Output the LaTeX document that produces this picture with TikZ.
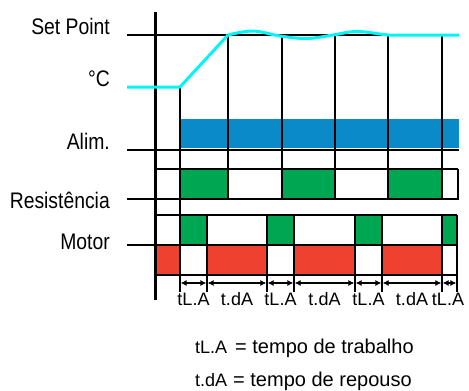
\documentclass[tikz,border=0pt]{standalone}
\usepackage{fontspec}
\setmainfont{Liberation Sans}
\newfontfamily\narrowsans[FakeStretch=0.86]{Liberation Sans}
\usetikzlibrary{arrows.meta}
\definecolor{alimblue}{HTML}{0A8AC9}
\definecolor{ongreen}{HTML}{00A651}
\definecolor{offred}{HTML}{EF4130}
\definecolor{tempcyan}{HTML}{00F6F6}
\tikzset{
  thinline/.style={line width=1.4pt, black},
  thickline/.style={line width=2.8pt, black},
  rowlabel/.style={anchor=base east, inner sep=0pt, font=\narrowsans\fontsize{22.5}{26}\selectfont},
  ticklabel/.style={anchor=base, inner sep=0pt, font=\fontsize{18}{20}\selectfont},
  legendkey/.style={anchor=base west, inner sep=0pt, font=\fontsize{18}{20}\selectfont},
  legendtext/.style={anchor=base west, inner sep=0pt, font=\fontsize{20}{24}\selectfont},
  dim/.style={line width=1.1pt, {Latex[length=6pt,width=6pt]}-{Latex[length=6pt,width=6pt]}, shorten <=0.6pt, shorten >=0.6pt},
  bluebar/.style={fill=alimblue},
  greenbar/.style={fill=ongreen},
  redbar/.style={fill=offred},
}
\begin{document}
\begin{tikzpicture}[x=1pt,y=-1pt]
\useasboundingbox (0,0) rectangle (469,391);

% --- coloured state bars ---
\fill[bluebar] (180,119) rectangle (459,148);
\foreach \a/\b in {180/228, 282/335, 388/442}
  \fill[greenbar] (\a,169) rectangle (\b,198);
\foreach \a/\b in {180/207, 267/294, 355/382, 442/457}
  \fill[greenbar] (\a,215) rectangle (\b,245);
\foreach \a/\b in {156/180, 207/267, 294/355, 382/442}
  \fill[redbar] (\a,245) rectangle (\b,275);

% --- reference lines ---
\draw[line width=1.8pt] (127,35) -- (459,35);
\draw[line width=3.4pt] (155.5,12) -- (155.5,300);
\draw[thickline] (127,150) -- (459,150);
\draw[thickline] (127,199) -- (459,199);
\draw[thickline] (127,245) -- (458,245);

% --- heater row frame ---
\draw[thinline] (156,169) -- (458,169);
\draw[thinline] (458,169) -- (458,199);

% --- motor row frame ---
\draw[thinline] (156,215) -- (457,215);
\draw[thinline] (155,275) -- (457,275);

% --- time markers ---
\draw[thinline] (180,87) -- (180,292);
\foreach \x in {228, 282, 335, 388, 442}
  \draw[thinline] (\x,36) -- (\x,199);
\foreach \x in {207, 267, 294, 355, 382, 442, 457}
  \draw[thinline] (\x,215) -- (\x,292);

% --- temperature curve ---
\draw[tempcyan, line width=3pt, line join=round]
  (127,87) -- (180,87) -- (228,35)
  plot[smooth, tension=0.6] coordinates {(228,35) (253,31) (280,36) (307,38.5) (333,35) (357,31.5) (388,35) (400,35)}
  -- (459,35);

% --- interval dimensions ---
\foreach \n/\x in {0/180, 1/207, 2/267, 3/294, 4/355, 5/382, 6/442, 7/457}
  \coordinate (m\n) at (\x,283);
\foreach \a/\b in {0/1, 1/2, 2/3, 3/4, 4/5, 5/6, 6/7}
  \draw[dim] (m\a) -- (m\b);

% --- interval labels ---
\node[ticklabel] (w1) at (193.5,305) {tL.A};
\node[ticklabel] (r1) at (237,305) {t.dA};
\node[ticklabel] (w2) at (280.5,305) {tL.A};
\node[ticklabel] (r2) at (324.5,305) {t.dA};
\node[ticklabel] (w3) at (368.5,305) {tL.A};
\node[ticklabel] (r3) at (412,305) {t.dA};
\node[ticklabel] (w4) at (448,305) {tL.A};

% --- row labels ---
\node[rowlabel] (setpoint) at (110,34) {Set Point};
\node[rowlabel] (degc) at (110,86) {°C};
\node[rowlabel] (alim) at (110,149) {Alim.};
\node[rowlabel] (resist) at (110,208) {Resistência};
\node[rowlabel] (motor) at (110,249) {Motor};

% --- legend ---
\node[legendkey] (k1) at (195,353.5) {tL.A};
\node[legendtext] (d1) at (235,353.5) {= tempo de trabalho};
\node[legendkey] (k2) at (195,386.5) {t.dA};
\node[legendtext] (d2) at (233,386.5) {= tempo de repouso};
\end{tikzpicture}
\end{document}
